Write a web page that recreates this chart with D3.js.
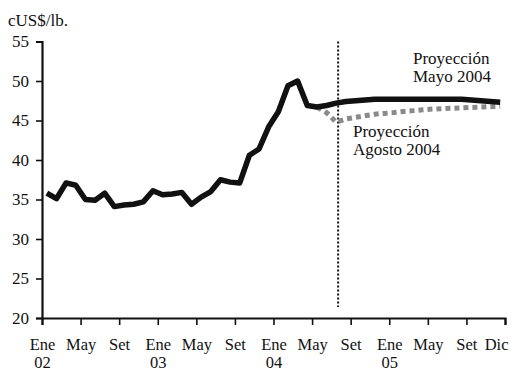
<!DOCTYPE html>
<html><head><meta charset="utf-8">
<script src="https://cdn.jsdelivr.net/npm/d3@7"></script>
<style>
body{margin:0;background:#fff;}
svg text{font-family:"Liberation Serif","Times New Roman",Times,"DejaVu Serif",serif !important;}
</style></head>
<body><svg id="c" width="516" height="371"></svg>
<script>
// Month index 0 = Ene 2002; points plotted at month centres
const historico = [35.8,35.1,37.1,36.8,35.0,34.9,35.8,34.1,34.3,34.4,34.7,36.1,
  35.6,35.7,35.9,34.4,35.3,36.0,37.5,37.2,37.1,40.6,41.4,44.2,
  46.1,49.4,50.0,46.9,46.7]; // Ene02 .. May04
const proyMayo = [46.7,46.9,47.2,47.4,47.5,47.6,47.7,47.7,47.7,47.7,47.7,47.7,47.7,47.7,47.7,47.7,47.6,47.5,47.4,47.3]; // May04 .. Dic05
const proyAgosto = [46.7,46.0,44.8,45.2,45.4,45.6,45.8,45.9,46.0,46.15,46.25,46.35,46.45,46.5,46.55,46.6,46.65,46.7,46.75,46.8]; // May04 .. Dic05
const inicioProy = 28;          // May 2004
const corteMes = 30.7;          // vertical reference line (month index)
const tickMeses = [0,4,8,12,16,20,24,28,32,36,40,44,48];
const tickLabels = ["Ene","May","Set","Ene","May","Set","Ene","May","Set","Ene","May","Set","Dic"];
const tickAnios = ["02","","","03","","","04","","","05","","",""];
const yTicks = [20,25,30,35,40,45,50,55];

const svg = d3.select("#c");
const x = d3.scaleLinear().domain([0,48]).range([42,505]);
const y = d3.scaleLinear().domain([20,55]).range([318,41.5]);

const line = d3.line().x(d=>x(d[0]+0.5)).y(d=>y(d[1]));
const negro = historico.map((v,i)=>[i,v]).concat(proyMayo.slice(1).map((v,i)=>[inicioProy+1+i,v]));
const gris = proyAgosto.map((v,i)=>[inicioProy+i,v]);

// y axis
const ya = svg.append("g").attr("transform","translate(42,0)")
  .call(d3.axisLeft(y).tickValues(yTicks).tickSize(6).tickPadding(7));
ya.select(".domain").attr("stroke","#111").attr("stroke-width",2.2);
ya.selectAll(".tick line").attr("stroke","#111").attr("stroke-width",1.6);
ya.selectAll("text").attr("font-size",17).attr("fill","#111");

// x axis
const xa = svg.append("g").attr("transform","translate(0,318)")
  .call(d3.axisBottom(x).tickValues(tickMeses).tickSize(7).tickFormat(""));
xa.select(".domain").attr("stroke","#111").attr("stroke-width",2.2);
xa.selectAll(".tick line").attr("stroke","#111").attr("stroke-width",1.6);
const nT = tickMeses.length;
xa.selectAll(".tick").each(function(d,i){
  const g = d3.select(this);
  const last = i === nT-1;
  g.append("text").attr("y",32).attr("x", last ? 3 : 0)
    .attr("text-anchor", last ? "end" : "middle").attr("font-size",16.5)
    .attr("fill","#111").text(tickLabels[i]);
  if(tickAnios[i]) g.append("text").attr("y",50).attr("text-anchor","middle").attr("font-size",16.5)
    .attr("fill","#111").text(tickAnios[i]);
});

// vertical dotted line
svg.append("line").attr("x1",x(corteMes)).attr("x2",x(corteMes))
  .attr("y1",y(55)).attr("y2",y(21.4))
  .attr("stroke","#111").attr("stroke-width",2).attr("stroke-dasharray","2,2");

// gray projection
svg.append("path").datum(gris).attr("d",line).attr("fill","none")
  .attr("stroke","#8a8a8a").attr("stroke-width",5).attr("stroke-dasharray","5,4");
// black line
svg.append("path").datum(negro).attr("d",line).attr("fill","none")
  .attr("stroke","#111").attr("stroke-width",5.5).attr("stroke-linejoin","round");

// texts
const t = (tx,ty,s)=>svg.append("text").attr("x",tx).attr("y",ty).attr("font-size",17).attr("fill","#111").text(s);
t(8,26,"cUS$/lb.");
t(413,64,"Proyección");
t(413,82,"Mayo 2004");
t(353,137,"Proyección");
t(353,155,"Agosto 2004");
</script></body></html>
